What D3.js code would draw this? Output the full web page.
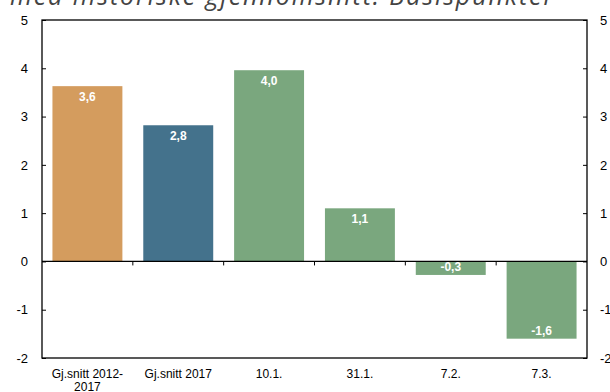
<!DOCTYPE html>
<html><head><meta charset="utf-8">
<script src="https://cdn.jsdelivr.net/npm/d3@7"></script>
<style>body{margin:0;background:#fff}svg{display:block}</style>
</head><body>
<svg id="c" width="610" height="392"></svg>
<script>
const title = "med historiske gjennomsnitt. Basispunkter";
const categories = ["Gj.snitt 2012-\n2017", "Gj.snitt 2017", "10.1.", "31.1.", "7.2.", "7.3."];
const values = [3.63, 2.82, 3.96, 1.1, -0.28, -1.6];
const labels = ["3,6", "2,8", "4,0", "1,1", "-0,3", "-1,6"];
const colors = ["#d49c5e", "#44728c", "#7aa77e", "#7aa77e", "#7aa77e", "#7aa77e"];
const yTicks = [-2, -1, 0, 1, 2, 3, 4, 5];

const svg = d3.select("#c");
const L = 42, R = 587, T = 20, B = 358;
const x = d3.scaleBand().domain(d3.range(categories.length)).range([L, R]).paddingInner(0.23).paddingOuter(0.115);
const xb = d3.scaleLinear().domain([0, categories.length]).range([L, R]);
const y = d3.scaleLinear().domain([-2, 5]).range([B, T]);

svg.append("text").attr("x", 10).attr("y", 5).attr("font-family", "Open Sans, sans-serif")
  .attr("font-style", "italic").attr("font-size", 25).attr("letter-spacing", 1.9).attr("fill", "#444").text(title);

// bars
svg.selectAll("rect.bar").data(values).join("rect").attr("class", "bar")
  .attr("x", (d, i) => x(i)).attr("width", x.bandwidth())
  .attr("y", d => y(Math.max(0, d))).attr("height", d => Math.abs(y(d) - y(0)))
  .attr("fill", (d, i) => colors[i]);

svg.selectAll("text.lab").data(values).join("text").attr("class", "lab")
  .attr("x", (d, i) => x(i) + x.bandwidth() / 2)
  .attr("y", d => d >= 0 ? y(d) + 15 : y(d) - 4)
  .attr("text-anchor", "middle").attr("font-family", "Liberation Sans, Arial, sans-serif")
  .attr("font-weight", "bold").attr("font-size", 12).attr("fill", "#fff")
  .text((d, i) => labels[i]);

// frame
svg.append("rect").attr("x", L).attr("y", T).attr("width", R - L).attr("height", B - T)
  .attr("fill", "none").attr("stroke", "#000").attr("stroke-width", 1.3);

// zero line
svg.append("line").attr("x1", L).attr("x2", R).attr("y1", y(0)).attr("y2", y(0)).attr("stroke", "#000").attr("stroke-width", 1.2);

// y axes
const la = svg.append("g").attr("transform", `translate(${L},0)`)
  .call(d3.axisLeft(y).tickValues(yTicks).tickSize(-4).tickPadding(14).tickFormat(d => String(d)));
const ra = svg.append("g").attr("transform", `translate(${R},0)`)
  .call(d3.axisRight(y).tickValues(yTicks).tickSize(-4).tickPadding(13).tickFormat(d => String(d)));
[la, ra].forEach(g => {
  g.select(".domain").remove();
  g.selectAll("text").attr("font-family", "Liberation Sans, Arial, sans-serif").attr("font-size", 13).attr("fill", "#000");
  g.selectAll("line").attr("stroke", "#000");
});

// x ticks at band boundaries on zero line
svg.selectAll("line.xt").data(d3.range(1, categories.length)).join("line").attr("class", "xt")
  .attr("x1", d => xb(d)).attr("x2", d => xb(d)).attr("y1", y(0)).attr("y2", y(0) + 4).attr("stroke", "#000");

// category labels
const cl = svg.selectAll("text.cat").data(categories).join("text").attr("class", "cat")
  .attr("x", (d, i) => xb(i + 0.5)).attr("y", 378)
  .attr("text-anchor", "middle").attr("font-family", "Liberation Sans, Arial, sans-serif")
  .attr("font-size", 12).attr("fill", "#000");
cl.each(function(d) {
  const parts = d.split("\n");
  d3.select(this).selectAll("tspan").data(parts).join("tspan")
    .attr("x", d3.select(this).attr("x")).attr("dy", (p, j) => j ? 13 : 0).text(p => p);
});
</script>
</body></html>
